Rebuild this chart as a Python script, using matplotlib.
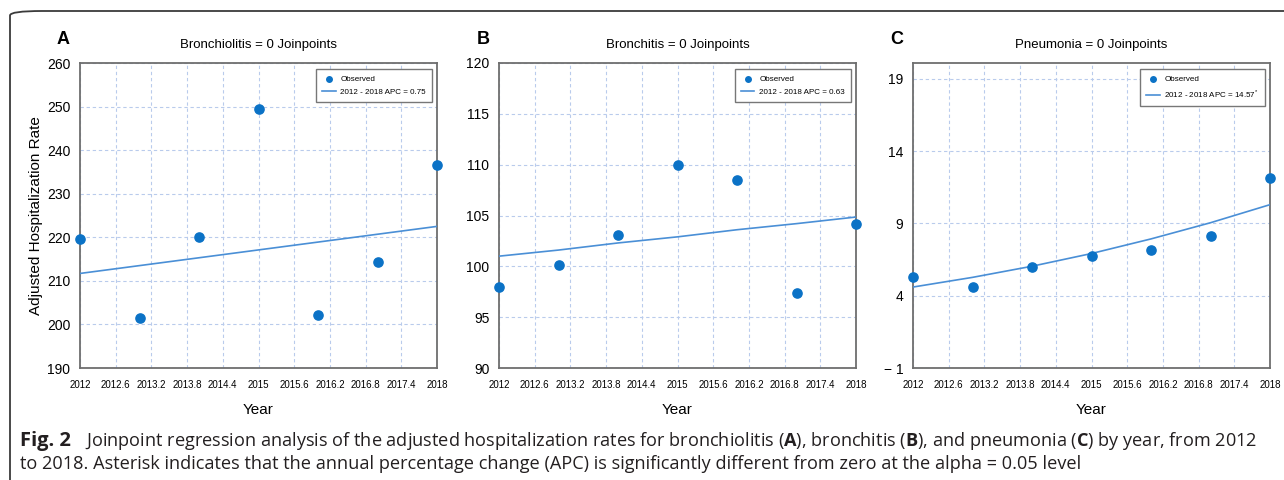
import matplotlib.pyplot as plt
from matplotlib.patches import FancyBboxPatch

# data
years = [2012, 2013, 2014, 2015, 2016, 2017, 2018]

bronchiolitis_obs = [219.7, 201.5, 220.0, 249.4, 202.1, 214.4, 236.7]
bronchiolitis_fit = [211.7, 213.5, 215.3, 217.1, 218.9, 220.7, 222.5]

bronchitis_obs = [98.0, 100.1, 103.1, 110.0, 108.5, 97.4, 104.2]
bronchitis_fit = [101.0, 101.6, 102.3, 102.9, 103.6, 104.2, 104.85]

pneumonia_obs = [5.29, 4.6, 5.96, 6.72, 7.14, 8.13, 12.16]
pneumonia_fit = [4.6, 5.27, 6.04, 6.92, 7.93, 9.05, 10.3]

panel_letters = ["A", "B", "C"]
titles = ["Bronchiolitis = 0 Joinpoints", "Bronchitis = 0 Joinpoints", "Pneumonia = 0 Joinpoints"]
legend_labels = ["2012 - 2018 APC = 0.75", "2012 - 2018 APC = 0.63", "2012 - 2018 APC = 14.57$^{*}$"]
ylims = [(190, 260), (90, 120), (-1, 20.1)]
yticks = [[190, 200, 210, 220, 230, 240, 250, 260],
          [90, 95, 100, 105, 110, 115, 120],
          [-1, 4, 9, 14, 19]]
xticks = [2012, 2012.6, 2013.2, 2013.8, 2014.4, 2015, 2015.6, 2016.2, 2016.8, 2017.4, 2018]
xtick_labels = ["2012", "2012.6", "2013.2", "2013.8", "2014.4", "2015",
                "2015.6", "2016.2", "2016.8", "2017.4", "2018"]

observed = [bronchiolitis_obs, bronchitis_obs, pneumonia_obs]
fitted = [bronchiolitis_fit, bronchitis_fit, pneumonia_fit]

dot_color = "#0b72c6"
line_color = "#4a8fd6"
grid_color = "#b9cbec"

plt.rcParams["font.family"] = ["Liberation Sans", "DejaVu Sans"]
plt.rcParams["mathtext.fontset"] = "custom"
plt.rcParams["mathtext.rm"] = "Liberation Sans"
plt.rcParams["mathtext.bf"] = "Open Sans:bold"

fig = plt.figure(figsize=(12.84, 4.80), dpi=100)

# rounded frame around the whole figure
frame = FancyBboxPatch((10 / 1284, -0.2), 1.2, 1.2 - 11 / 480,
                       boxstyle="round,pad=0,rounding_size=0.025",
                       transform=fig.transFigure, fill=False,
                       edgecolor="#3a3a3a", linewidth=1.3, mutation_aspect=480 / 1284)
fig.patches.append(frame)

lefts = [80, 499, 913]
letter_x = [63, 483, 897]
for i in range(3):
    ax = fig.add_axes([lefts[i] / 1284, 112 / 480, 357 / 1284, 305 / 480])
    ax.grid(True, color=grid_color, linestyle=(0, (3, 2.5)), linewidth=0.8)
    ax.set_axisbelow(True)
    ax.plot(years, fitted[i], color=line_color, linewidth=1.2, label=legend_labels[i], zorder=3)
    ax.scatter(years, observed[i], s=44, color=dot_color, label="Observed", zorder=4, clip_on=False)
    ax.set_xlim(2012, 2018)
    ax.set_ylim(*ylims[i])
    ax.set_xticks(xticks)
    ax.set_xticklabels(xtick_labels, fontsize=7)
    ax.set_yticks(yticks[i])
    ax.set_yticklabels(["\u2212 1" if v == -1 else str(v) for v in yticks[i]], fontsize=10)
    ax.tick_params(axis="both", length=0)
    ax.tick_params(axis="x", pad=9)
    ax.tick_params(axis="y", pad=7)
    for sp in ax.spines.values():
        sp.set_color("#6e6e6e")
        sp.set_linewidth(1.3)
    ax.set_title(titles[i], fontsize=9.5, pad=11)
    ax.set_xlabel("Year", fontsize=11, labelpad=9)
    if i == 0:
        ax.set_ylabel("Adjusted Hospitalization Rate", fontsize=11, labelpad=3)
    handles, labels = ax.get_legend_handles_labels()
    leg = ax.legend(handles[::-1], labels[::-1], loc="upper right",
                    bbox_to_anchor=(0.986, 0.98), borderaxespad=0,
                    prop={"size": 5.8}, fancybox=False,
                    edgecolor="#777777", framealpha=1, handlelength=1.7,
                    markerscale=0.6, borderpad=0.75, labelspacing=0.7, handletextpad=0.6)
    leg.get_frame().set_linewidth(1.0)
    fig.text(letter_x[i] / 1284, 1 - 40 / 480, panel_letters[i], fontsize=13,
             fontweight="bold", ha="center", va="center")

# caption
cap_font = ["Open Sans", "Liberation Sans", "DejaVu Sans"]
cap_color = "#231f20"
fig.text(20 / 1284, 1 - 441 / 480, "Fig. 2", fontsize=14.5, fontweight="bold",
         family=cap_font, color=cap_color, va="center")
fig.text(85 / 1284, 1 - 441 / 480,
         "Joinpoint regression analysis of the adjusted hospitalization rates for bronchiolitis ($\\mathbf{A}$), "
         "bronchitis ($\\mathbf{B}$), and pneumonia ($\\mathbf{C}$) by year, from 2012",
         fontsize=13.1, family=cap_font, color=cap_color, va="center")
fig.text(20 / 1284, 1 - 464 / 480,
         "to 2018. Asterisk indicates that the annual percentage change (APC) is significantly "
         "different from zero at the alpha = 0.05 level",
         fontsize=13.1, family=cap_font, color=cap_color, va="center")

fig.savefig("out.png", dpi=100)
